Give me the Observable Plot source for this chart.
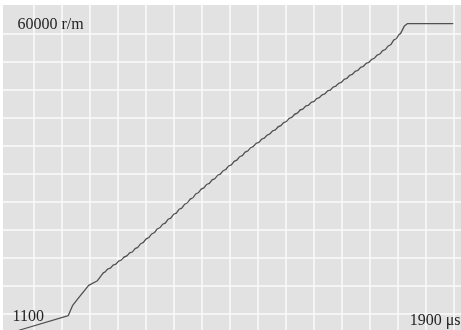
<!DOCTYPE html>
<html><head><meta charset="utf-8">
<script src="https://cdn.jsdelivr.net/npm/d3@7"></script>
<script src="https://cdn.jsdelivr.net/npm/@observablehq/plot@0.6"></script>
<style>
html,body{margin:0;padding:0;background:#fff;}
#wrap{position:relative;width:461px;height:330px;overflow:hidden;background:#fff;}
#paper{position:absolute;left:3px;top:5px;right:0;bottom:0;background-color:#e2e2e2;
background-image:repeating-linear-gradient(to right, transparent 0 26.5px, rgba(250,250,250,.8) 26.5px 28px), repeating-linear-gradient(to bottom, transparent 0 26.5px, rgba(250,250,250,.8) 26.5px 28px);
background-position:4px 2px;}
#chart{position:absolute;left:0;top:0;}
#chart path{filter:blur(0.35px);}
#chart text{filter:blur(0.3px);}
</style>
</head><body>
<div id="wrap"><div id="paper"></div><div id="chart"></div></div>
<script>
// time in microseconds, speed in r/m
const rampStartT = [1105, 1196, 1204, 1215, 1233, 1249, 1260];
const rampStartV = [0, 2900, 4900, 6400, 8800, 9700, 11260];
const stairT = [1260,1270,1280,1290,1300,1310,1320,1330,1340,1350,1360,1370,1380,1390,1400,1410,1420,1430,1440,1450,1460,1470,1480,1490,1500,1510,1520,1530,1540,1550,1560,1570,1580,1590,1600,1610,1620,1630,1640,1650,1660,1670,1680,1690,1700,1710,1720,1730,1740,1750,1760,1770,1780,1790,1800];
const stairV = [11260,12050,12840,13630,14420,15200,16075,17025,17975,18925,19880,20830,21790,22770,23750,24730,25710,26710,27660,28560,29460,30360,31260,32170,33070,33970,34870,35740,36550,37360,38170,38980,39790,40600,41410,42220,43050,43790,44530,45270,46010,46760,47500,48250,49010,49790,50570,51360,52140,52920,53760,54600,55560,56700,57840];
const rampEndT = [1800, 1807, 1813, 1895];
const rampEndV = [57840, 59300, 59800, 59800];
const topLabel = ["60000 r/m"];
const leftLabel = ["1100"];
const rightLabel = ["1900 μs"];

const toRows = (T, V) => T.map((t, i) => ({t, v: V[i]}));
const lineStyle = {x: "t", y: "v", stroke: "#505050", strokeWidth: 1.3, strokeLinejoin: "round"};
const font = {fontFamily: "Liberation Serif", fontSize: 16, fill: "#222"};

const chart = Plot.plot({
  width: 461, height: 330,
  marginLeft: 15, marginRight: 6, marginTop: 22, marginBottom: 0,
  x: {domain: [1100, 1900], axis: null},
  y: {domain: [0, 60000], axis: null},
  style: {background: "transparent", overflow: "visible"},
  marks: [
    Plot.line(toRows(rampStartT, rampStartV), lineStyle),
    Plot.line(toRows(stairT, stairV), {...lineStyle, curve: "bump-x"}),
    Plot.line(toRows(rampEndT, rampEndV), lineStyle),
    Plot.text(topLabel, {text: d => d, frameAnchor: "top-left", textAnchor: "start", lineAnchor: "middle", dx: 2, dy: 1, ...font}),
    Plot.text(leftLabel, {text: d => d, frameAnchor: "bottom-left", textAnchor: "start", lineAnchor: "middle", dx: -3, dy: -15, ...font}),
    Plot.text(rightLabel, {text: d => d, frameAnchor: "bottom-right", textAnchor: "end", lineAnchor: "middle", dx: 5, dy: -11, ...font})
  ]
});
document.getElementById("chart").appendChild(chart);
</script>
</body></html>
